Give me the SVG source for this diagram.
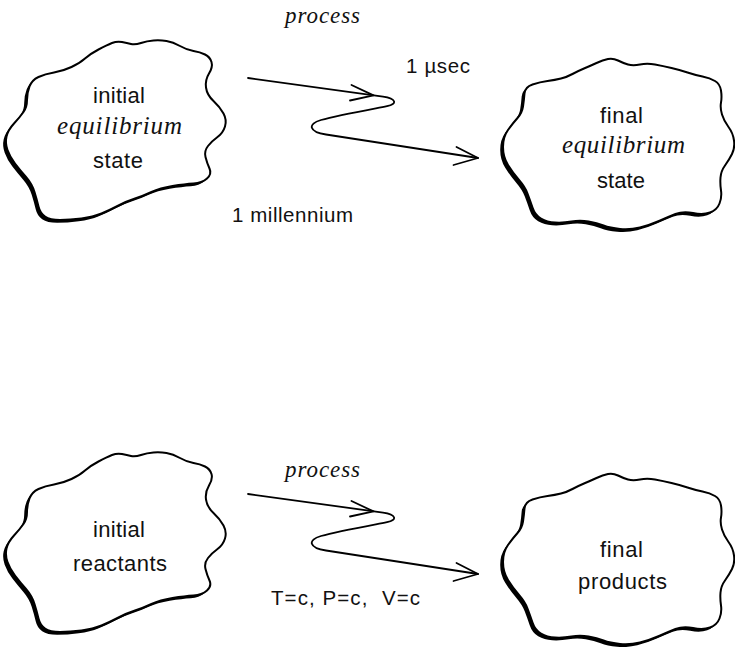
<svg xmlns="http://www.w3.org/2000/svg" xmlns:xlink="http://www.w3.org/1999/xlink" width="735" height="647" viewBox="0 0 735 647">
  <style>
    .face { fill: #ffffff; stroke: #000000; stroke-width: 2; stroke-linejoin: round; }
    .rim { fill: #000000; stroke: none; }
    .wire { fill: none; stroke: #000000; stroke-width: 1.8; stroke-linecap: round; stroke-linejoin: round; }
    .sans { font-family: "Liberation Sans", Arial, sans-serif; font-size: 22px; fill: #111111; }
    .label { font-family: "Liberation Sans", Arial, sans-serif; font-size: 20.5px; fill: #111111; }
    .ital { font-family: "Liberation Serif", "Times New Roman", serif; font-style: italic; font-size: 25px; fill: #111111; }
  </style>
  <defs>
    <!-- wavy outline used for the left-hand states -->
    <path id="cloudA" d="M29.5,86.5 Q32,80 38.5,77 Q45,74 54,72.5 Q63,71 71.5,67 Q80,63 85,58.5 Q90,54 98.5,49.5 Q107,45 112,43 Q117,41 122,42 Q127,43 131,44 Q135,45 141,43 Q147,41 153.5,40.5 Q160,40 166.5,41 Q173,42 180,46 Q187,50 193.5,51 Q200,52 205,54.5 Q210,57 211.5,62 Q213,67 209,73.5 Q205,80 206,87.5 Q207,95 213.5,101 Q220,107 223.5,113.5 Q227,120 225,126.5 Q223,133 217.5,137 Q212,141 208,146 Q204,151 205.5,157 Q207,163 209.5,168.5 Q212,174 207,178.5 Q202,183 193.5,183.5 Q185,184 172.5,186 Q160,188 151.5,192 Q143,196 135,198.5 Q127,201 118.5,205.5 Q110,210 101.5,213.5 Q93,217 81.5,218.5 Q70,220 60,220 Q50,220 45,216.5 Q40,213 38.5,206.5 Q37,200 34.5,192 Q32,184 26,177 Q20,170 15,163.5 Q10,157 7.5,150 Q5,143 6.5,136.5 Q8,130 14,123.5 Q20,117 23.5,112 Q27,107 27,100 Q27,93 29.5,86.5 Z"/>
    <!-- wavy outline used for the right-hand states -->
    <path id="cloudB" d="M524.5,93.5 Q525,87 532.5,84.5 Q540,82 547.5,81 Q555,80 561,78.5 Q567,77 572.5,74 Q578,71 584,68.5 Q590,66 596.5,63 Q603,60 608,59 Q613,58 618,60.5 Q623,63 628,64.5 Q633,66 640,64.5 Q647,63 655,64.5 Q663,66 671.5,68 Q680,70 687.5,72.5 Q695,75 702.5,76.5 Q710,78 715,81 Q720,84 721,90.5 Q722,97 721,102.5 Q720,108 722,114.5 Q724,121 728.5,127 Q733,133 734,140.5 Q735,148 732,154 Q729,160 725,165.5 Q721,171 720.5,177.5 Q720,184 721,190.5 Q722,197 719.5,203.5 Q717,210 710,212.5 Q703,215 693,213 Q683,211 675.5,214 Q668,217 659,221 Q650,225 640,227.5 Q630,230 620,229 Q610,228 603.5,225.5 Q597,223 588.5,221.5 Q580,220 571.5,221.5 Q563,223 555,222.5 Q547,222 541,218.5 Q535,215 532.5,207.5 Q530,200 527.5,193.5 Q525,187 519,180 Q513,173 508,165 Q503,157 503,147 Q503,137 508,130 Q513,123 517.5,118 Q522,113 523,106.5 Q524,100 524.5,93.5 Z"/>
    <!-- one zig-zag process arrow -->
    <g id="zigzag">
      <path class="wire" d="M248,78 L383,96.6 C396,98.4 398,104 387,106.2 C362,111 337,115.5 321,120 C307,124 309,132 326,134.5 L478,158"/>
      <polyline class="wire" points="351.5,85 373.5,95.4 350,100.5"/>
      <polyline class="wire" points="456.5,147 478,158 453.5,165"/>
    </g>
  </defs>

  <rect x="0" y="0" width="735" height="647" fill="#ffffff"/>

  <!-- upper row: equilibrium states -->
  <g id="node-initial-equilibrium">
    <use xlink:href="#cloudA" class="rim" transform="translate(-2.8,2.8)"/>
    <use xlink:href="#cloudA" class="face"/>
    <text class="sans" x="93" y="103" textLength="52" lengthAdjust="spacing">initial</text>
    <text class="ital" x="57" y="134" textLength="125" lengthAdjust="spacing">equilibrium</text>
    <text class="sans" x="93" y="168" textLength="50" lengthAdjust="spacing">state</text>
  </g>

  <g id="node-final-equilibrium">
    <use xlink:href="#cloudB" class="rim" transform="translate(-2.8,2.8)"/>
    <use xlink:href="#cloudB" class="face"/>
    <text class="sans" x="600" y="123" textLength="43" lengthAdjust="spacing">final</text>
    <text class="ital" x="562" y="153" textLength="123" lengthAdjust="spacing">equilibrium</text>
    <text class="sans" x="597" y="188" textLength="48" lengthAdjust="spacing">state</text>
  </g>

  <!-- lower row: reactants and products -->
  <g id="node-initial-reactants">
    <g transform="translate(0,412)">
      <use xlink:href="#cloudA" class="rim" transform="translate(-2.8,2.8)"/>
      <use xlink:href="#cloudA" class="face"/>
    </g>
    <text class="sans" x="93" y="537" textLength="52" lengthAdjust="spacing">initial</text>
    <text class="sans" x="73" y="571" textLength="94" lengthAdjust="spacing">reactants</text>
  </g>

  <g id="node-final-products">
    <g transform="translate(0,415)">
      <use xlink:href="#cloudB" class="rim" transform="translate(-2.8,2.8)"/>
      <use xlink:href="#cloudB" class="face"/>
    </g>
    <text class="sans" x="600" y="557" textLength="43" lengthAdjust="spacing">final</text>
    <text class="sans" x="578" y="589" textLength="89" lengthAdjust="spacing">products</text>
  </g>

  <!-- zig-zag process paths with open arrowheads -->
  <g id="connectors">
    <use id="process-upper" xlink:href="#zigzag"/>
    <use id="process-lower" xlink:href="#zigzag" transform="translate(0,416)"/>
  </g>

  <!-- process labels -->
  <g id="labels">
    <text class="ital" x="285" y="23" textLength="75" lengthAdjust="spacing" style="font-size:23px">process</text>
    <text class="label" x="406" y="73" textLength="64" lengthAdjust="spacing">1 µsec</text>
    <text class="label" x="232" y="222" textLength="121" lengthAdjust="spacing">1 millennium</text>
    <text class="ital" x="285" y="477" textLength="75" lengthAdjust="spacing" style="font-size:23px">process</text>
    <text class="label" x="271" y="605" textLength="149" lengthAdjust="spacing" xml:space="preserve">T=c, P=c,  V=c</text>
  </g>
</svg>
